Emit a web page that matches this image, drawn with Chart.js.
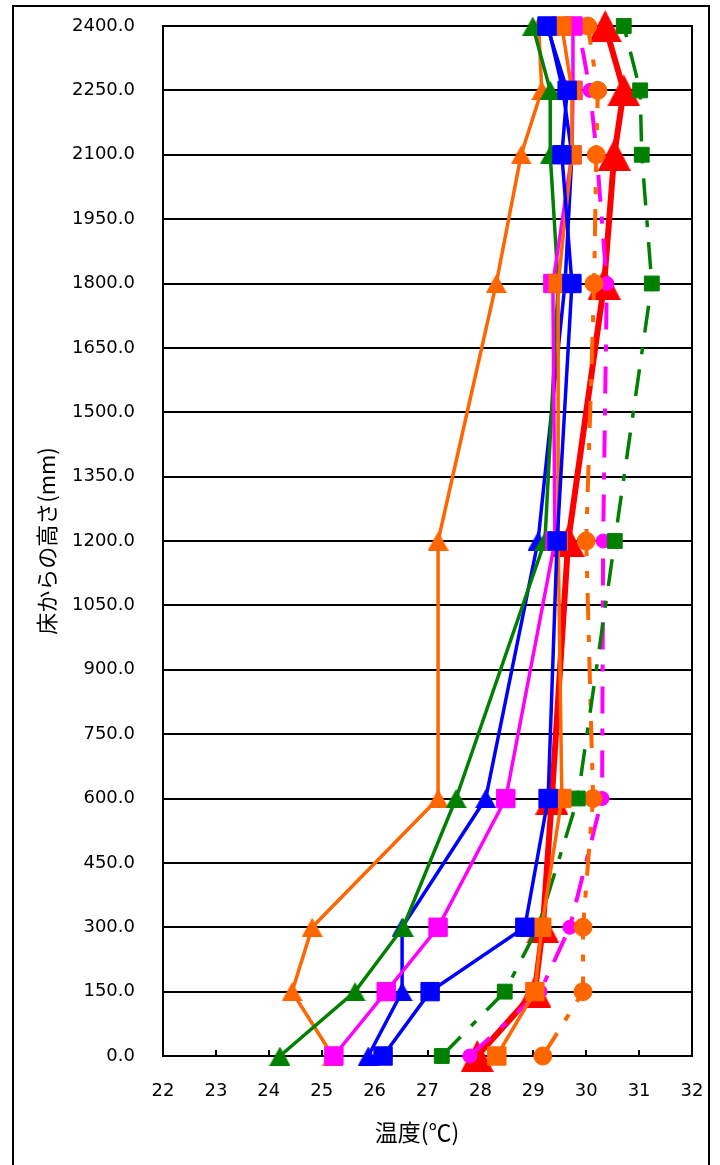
<!DOCTYPE html>
<html lang="ja">
<head>
<meta charset="utf-8">
<title>床からの高さと温度</title>
<script src="https://cdn.jsdelivr.net/npm/chart.js@4.4.1/dist/chart.umd.min.js"></script>
<style>
    body { margin: 0; background: #fff; }
    canvas { display: block; }
</style>
</head>
<body>
<canvas id="tempChart" width="720" height="1165"></canvas>
<script>
// 測定高さ (mm)
const heights = [0, 150, 300, 600, 1200, 1800, 2100, 2250, 2400];
const heightTicks = [0, 150, 300, 450, 600, 750, 900, 1050, 1200, 1350, 1500, 1650, 1800, 1950, 2100, 2250, 2400];
const tempTicks = [22, 23, 24, 25, 26, 27, 28, 29, 30, 31, 32];

// 温度 (℃), heights と同じ順番
const blueSquare = [26.16, 27.05, 28.84, 29.28, 29.45, 29.73, 29.54, 29.64, 29.26];
const orangeSquare = [28.31, 29.03, 29.16, 29.54, 29.47, 29.47, 29.73, 29.73, 29.54];
const magentaSquare = [25.23, 26.22, 27.2, 28.48, 29.41, 29.37, 29.73, 29.75, 29.75];
const greenSquare = [27.27, 28.46, 29.09, 29.84, 30.54, 31.24, 31.05, 31.02, 30.71];
const orangeCircle = [29.18, 29.94, 29.94, 30.13, 30.0, 30.15, 30.19, 30.22, 30.03];
const magentaCircle = [27.8, 29.13, 29.69, 30.3, 30.32, 30.39, 30.2, 30.07, 29.85];
const greenTriangle = [24.21, 25.63, 26.54, 27.54, 29.22, 29.47, 29.32, 29.32, 28.99];
const blueTriangle = [25.88, 26.52, 26.52, 28.1, 29.09, 29.6, 29.73, 29.56, 29.28];
const orangeTriangle = [25.21, 24.44, 24.82, 27.2, 27.2, 28.3, 28.77, 29.16, 29.1];
const redTriangle = [27.94, 29.03, 29.18, 29.35, 29.66, 30.34, 30.53, 30.71, 30.36];

const ORANGE = '#FF6600';
const GREEN = '#008000';
const BLUE = '#0000FF';
const MAGENTA = '#FF00FF';
const RED = '#FF0000';
const LONG_DASH_DOT = [27, 15, 7, 15];

// Excel風の三角マーカー (中心が値の位置にくる)
const triangleMarker = (color, w, h) => {
    const cv = document.createElement('canvas');
    cv.width = w;
    cv.height = h;
    const c = cv.getContext('2d');
    c.fillStyle = color;
    c.beginPath();
    c.moveTo(w / 2, 0);
    c.lineTo(w, h);
    c.lineTo(0, h);
    c.closePath();
    c.fill();
    return cv;
};

const makeSeries = (label, temps, color, marker, size, lineWidth, dash) => ({
    label: label,
    data: temps.map((t, i) => ({ x: t, y: heights[i] })),
    showLine: true,
    clip: false,
    borderColor: color,
    backgroundColor: color,
    borderWidth: lineWidth,
    borderDash: dash || [],
    pointStyle: marker,
    pointRadius: size,
    pointBackgroundColor: color,
    pointBorderColor: color,
    pointBorderWidth: 1,
    tension: 0
});

// 先頭ほど手前に描かれる
const datasets = [
    makeSeries('青□', blueSquare, BLUE, 'rect', 13, 3.5),
    makeSeries('橙□', orangeSquare, ORANGE, 'rect', 13, 3.5),
    makeSeries('桃□', magentaSquare, MAGENTA, 'rect', 13, 3.5),
    makeSeries('緑□', greenSquare, GREEN, 'rect', 10.5, 3.5, LONG_DASH_DOT),
    makeSeries('橙○', orangeCircle, ORANGE, 'circle', 9, 4, LONG_DASH_DOT),
    makeSeries('桃○', magentaCircle, MAGENTA, 'circle', 7, 4, LONG_DASH_DOT),
    makeSeries('緑△', greenTriangle, GREEN, triangleMarker(GREEN, 21, 19), 11, 3.5),
    makeSeries('青△', blueTriangle, BLUE, triangleMarker(BLUE, 21, 19), 11, 3.5),
    makeSeries('橙△', orangeTriangle, ORANGE, triangleMarker(ORANGE, 21, 19), 11, 3.5),
    makeSeries('赤△', redTriangle, RED, triangleMarker(RED, 33, 32), 17, 6)
];

const X_TITLE = '温度(℃)';

const frames = {
    id: 'frames',
    beforeDraw(chart) {
        const c = chart.ctx;
        c.save();
        c.fillStyle = '#fff';
        c.fillRect(0, 0, chart.width, chart.height);
        c.strokeStyle = '#000';
        c.lineWidth = 2;
        c.strokeRect(13, 6, 696, chart.height + 20);
        c.restore();
    },
    beforeDatasetsDraw(chart) {
        const c = chart.ctx;
        const area = chart.chartArea;
        const xs = chart.scales.x;
        c.save();
        c.strokeStyle = '#000';
        c.lineWidth = 2;
        c.strokeRect(area.left, area.top, area.right - area.left, area.bottom - area.top);
        // x軸の内向き目盛
        tempTicks.forEach((v) => {
            const px = Math.round(xs.getPixelForValue(v));
            c.beginPath();
            c.moveTo(px, area.bottom);
            c.lineTo(px, area.bottom - 6);
            c.stroke();
        });
        // x軸タイトル (元の図では少し左寄り)
        c.fillStyle = '#000';
        c.font = '23px "Noto Sans CJK JP"';
        c.textAlign = 'center';
        c.textBaseline = 'middle';
        c.fillText(X_TITLE, xs.getPixelForValue(26.8), 1132);
        c.restore();
    }
};

const tickFont = { family: 'DejaVu Sans', size: 18 };

new Chart(document.getElementById('tempChart'), {
    type: 'scatter',
    data: { datasets: datasets },
    options: {
        responsive: false,
        animation: false,
        layout: { autoPadding: false, padding: { left: 14, top: 26, right: 28, bottom: 0 } },
        plugins: {
            legend: { display: false },
            tooltip: { enabled: false }
        },
        scales: {
            x: {
                type: 'linear',
                min: 22,
                max: 32,
                afterBuildTicks: (scale) => { scale.ticks = tempTicks.map(v => ({ value: v })); },
                afterFit: (scale) => { scale.height = 109; },
                grid: { display: false, drawTicks: true, tickLength: 23 },
                border: { display: true, color: '#000', width: 2 },
                ticks: { color: '#000', font: tickFont, padding: 2, maxRotation: 0 }
            },
            y: {
                type: 'linear',
                min: 0,
                max: 2400,
                afterBuildTicks: (scale) => { scale.ticks = heightTicks.map(v => ({ value: v })); },
                afterFit: (scale) => { scale.width = 149; },
                grid: { color: '#000', lineWidth: 2, drawTicks: true, tickLength: 26, tickColor: 'rgba(0,0,0,0)' },
                border: { color: '#000', width: 2 },
                ticks: {
                    color: '#000',
                    font: tickFont,
                    padding: 2,
                    callback: (v) => Number(v).toFixed(1)
                },
                title: {
                    display: true,
                    text: '床からの高さ(mm)',
                    color: '#000',
                    font: { family: 'Noto Sans CJK JP', size: 22 },
                    padding: { top: 19, bottom: 0 }
                }
            }
        }
    },
    plugins: [frames]
});
</script>
</body>
</html>
